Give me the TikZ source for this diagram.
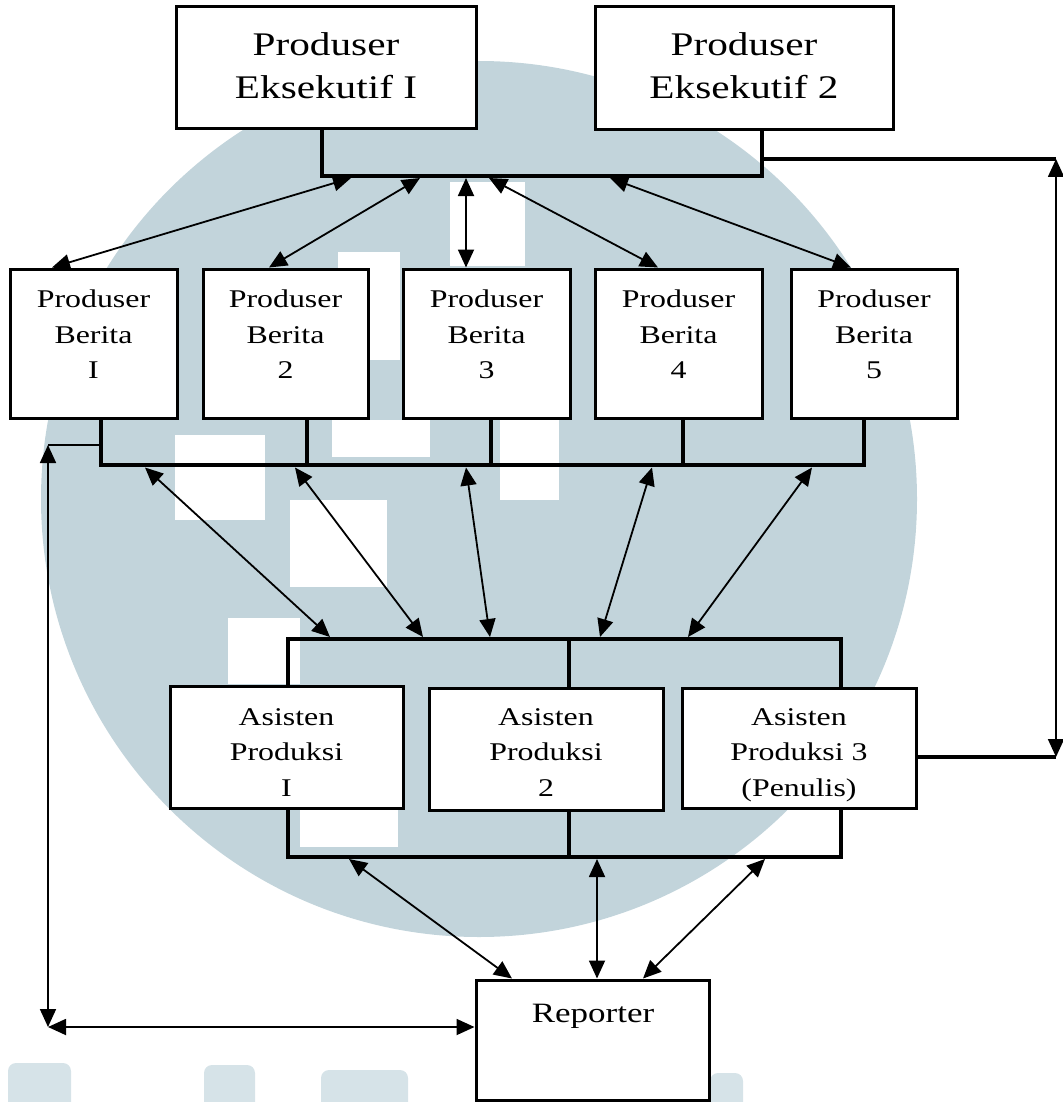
\documentclass[tikz,border=0pt]{standalone}
\usepackage{fontspec}
\setmainfont{Liberation Serif}[FakeStretch=1.25]
\usetikzlibrary{arrows.meta}
\definecolor{wmark}{RGB}{194,212,219}
\definecolor{wmarklight}{RGB}{214,227,232}
\begin{document}
\begin{tikzpicture}[x=1pt,y=-1pt,
  box/.style={draw, line width=3pt, fill=white, inner sep=0pt},
  txtbig/.style={align=center, inner sep=0pt, font=\fontsize{33}{43}\selectfont},
  txt/.style={align=center, inner sep=0pt, font=\fontsize{25.5}{35.5}\selectfont},
  bar/.style={line width=4pt},
  thinline/.style={line width=1.8pt},
  dbl/.style={line width=1.8pt, {Triangle[length=18pt,width=16pt]}-{Triangle[length=18pt,width=16pt]}},
  hole/.style={fill=white, draw=none}
]
\useasboundingbox (0,0) rectangle (1062,1102);

% faint watermark in the background
\fill[wmark] (479,499) circle[radius=438];
\fill[hole] (175,435) rectangle (265,520);
\fill[hole] (290,500) rectangle (387,587);
\fill[hole] (332,420) rectangle (430,457);
\fill[hole] (338,252) rectangle (400,360);
\fill[hole] (450,182) rectangle (525,266);
\fill[hole] (500,420) rectangle (559,500);
\fill[hole] (228,618) rectangle (300,684);
\fill[hole] (300,810) rectangle (398,847);
\fill[wmarklight, rounded corners=8pt] (8,1063) rectangle (71,1110);
\fill[wmarklight, rounded corners=8pt] (204,1065) rectangle (255,1110);
\fill[wmarklight, rounded corners=8pt] (321,1070) rectangle (408,1110);
\fill[wmarklight, rounded corners=8pt] (710,1073) rectangle (743,1110);

% boxes
\node[box, minimum width=300pt, minimum height=122pt] (pe1) at (326,68) {};
\node[box, minimum width=298pt, minimum height=123pt] (pe2) at (744,68.5) {};
\node[box, minimum width=167pt, minimum height=149pt] (pb1) at (93.5,343.5) {};
\node[box, minimum width=165pt, minimum height=149pt] (pb2) at (285.5,343.5) {};
\node[box, minimum width=167pt, minimum height=149pt] (pb3) at (486.5,343.5) {};
\node[box, minimum width=167pt, minimum height=149pt] (pb4) at (678.5,343.5) {};
\node[box, minimum width=166pt, minimum height=149pt] (pb5) at (874,343.5) {};
\node[box, minimum width=233pt, minimum height=122pt] (ap1) at (286.5,747) {};
\node[box, minimum width=234pt, minimum height=122pt] (ap2) at (546,749) {};
\node[box, minimum width=234pt, minimum height=120pt] (ap3) at (799,748) {};
\node[box, minimum width=233pt, minimum height=120pt] (rep) at (592.5,1040) {};

% texts
\node[txtbig] (pe1t) at (326,65.5) {Produser\\Eksekutif I};
\node[txtbig] (pe2t) at (744,65.5) {Produser\\Eksekutif 2};
\node[txt] (pb1t) at (93.5,334.5) {Produser\\Berita\\I};
\node[txt] (pb2t) at (285.5,334.5) {Produser\\Berita\\2};
\node[txt] (pb3t) at (486.5,334.5) {Produser\\Berita\\3};
\node[txt] (pb4t) at (678.5,334.5) {Produser\\Berita\\4};
\node[txt] (pb5t) at (874,334.5) {Produser\\Berita\\5};
\node[txt] (ap1t) at (286.5,752.5) {Asisten\\Produksi\\I};
\node[txt] (ap2t) at (546,752.5) {Asisten\\Produksi\\2};
\node[txt] (ap3t) at (799,755) {Asisten\\Produksi 3\\(Penulis)};
\node[anchor=base, inner sep=0pt, font=\fontsize{28}{34}\selectfont] (rept) at (593,1022) {Reporter};

% coordinates
\coordinate (tb1) at (322,176);
\coordinate (tb2) at (762,176);
\coordinate (tr1) at (762,159);
\coordinate (tr2) at (1056,159);
\coordinate (tr3) at (1056,757);
\coordinate (ta1) at (351,178);
\coordinate (ta2) at (420,178);
\coordinate (ta3) at (466,178);
\coordinate (ta4) at (489,178);
\coordinate (ta5) at (610,178);
\coordinate (m1) at (101,465);
\coordinate (m2) at (307,465);
\coordinate (m3) at (491,465);
\coordinate (m4) at (683,465);
\coordinate (m5) at (864,465);
\coordinate (ma1) at (145,467.5);
\coordinate (ma2) at (295,467.5);
\coordinate (ma3) at (466,467.5);
\coordinate (ma4) at (652,467.5);
\coordinate (ma5) at (812,467.5);
\coordinate (la1) at (330,637);
\coordinate (la2) at (423,637);
\coordinate (la3) at (490,637);
\coordinate (la4) at (600,637);
\coordinate (la5) at (688,637);
\coordinate (l1) at (288,639);
\coordinate (l2) at (569,639);
\coordinate (l3) at (841,639);
\coordinate (b1) at (288,857);
\coordinate (b2) at (569,857);
\coordinate (b3) at (841,857);
\coordinate (ba1) at (349,859);
\coordinate (ba2) at (597,859);
\coordinate (ba3) at (765,859);
\coordinate (lh1) at (101,445);
\coordinate (lv1) at (48,445);
\coordinate (lv2) at (48,1027);

% top bracket
\draw[bar] (pe1.south -| tb1) -- (tb1) -- (tb2) -- (pe2.south -| tb2);
\draw[bar] (tr1) -- (tr2);
\draw[bar] (ap3.east |- tr3) -- (tr3);
\draw[dbl] (tr2) -- (tr3);

% top bracket to producers
\draw[dbl] (ta1) -- ([xshift=-41.5pt]pb1.north);
\draw[dbl] (ta2) -- ([xshift=-16.5pt]pb2.north);
\draw[dbl] (ta3) -- ([xshift=-20.5pt]pb3.north);
\draw[dbl] (ta4) -- ([xshift=-20.5pt]pb4.north);
\draw[dbl] (ta5) -- ([xshift=-23pt]pb5.north);

% middle bracket
\draw[bar] (pb1.south -| m1) -- (m1) -- (m5) -- (pb5.south -| m5);
\draw[bar] (pb2.south -| m2) -- (m2);
\draw[bar] (pb3.south -| m3) -- (m3);
\draw[bar] (pb4.south -| m4) -- (m4);

% middle to lower bracket
\draw[dbl] (ma1) -- (la1);
\draw[dbl] (ma2) -- (la2);
\draw[dbl] (ma3) -- (la3);
\draw[dbl] (ma4) -- (la4);
\draw[dbl] (ma5) -- (la5);

% lower brackets
\draw[bar] (ap1.north -| l1) -- (l1) -- (l3) -- (ap3.north -| l3);
\draw[bar] (ap2.north -| l2) -- (l2);
\draw[bar] (ap1.south -| b1) -- (b1) -- (b3) -- (ap3.south -| b3);
\draw[bar] (ap2.south -| b2) -- (b2);

% to reporter
\draw[dbl] (ba1) -- ([xshift=-80.5pt]rep.north);
\draw[dbl] (ba2) -- ([xshift=4.5pt]rep.north);
\draw[dbl] (ba3) -- ([xshift=50.5pt]rep.north);

% left loop
\draw[thinline] (lh1) -- (lv1);
\draw[dbl] (lv1) -- (lv2);
\draw[dbl] (lv2) -- (rep.west |- lv2);
\end{tikzpicture}
\end{document}
